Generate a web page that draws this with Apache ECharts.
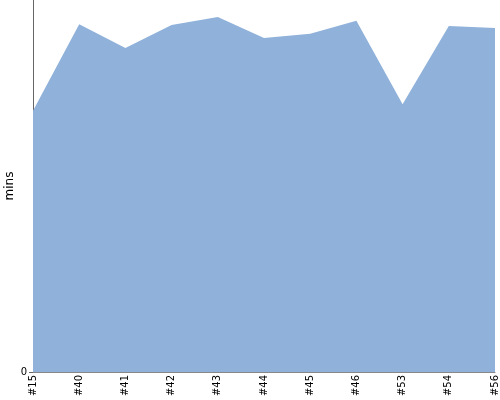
<!DOCTYPE html>
<html><head><meta charset="utf-8">
<script src="https://cdn.jsdelivr.net/npm/echarts@6/dist/echarts.min.js"></script>
<style>html,body{margin:0;padding:0;background:#fff}#c{width:500px;height:400px}</style>
</head><body><div id="c"></div>
<script>
const categories = ['#15','#40','#41','#42','#43','#44','#45','#46','#53','#54','#56'];
const values = [70.2, 93.5, 87.1, 93.3, 95.4, 89.8, 90.9, 94.4, 72.0, 93.0, 92.5];
const yName = 'mins';
const chart = echarts.init(document.getElementById('c'), null, {renderer:'canvas'});
chart.setOption({
  animation:false,
  grid:{left:33,right:5,top:0,bottom:28,containLabel:false,outerBoundsMode:'none'},
  graphic:[{type:'text',x:4,y:186,rotation:Math.PI/2,
    style:{text:yName,fill:'#000',font:'12px "DejaVu Sans"',align:'center',verticalAlign:'top'}}],
  xAxis:{type:'category',data:categories,boundaryGap:false,
    axisLine:{lineStyle:{color:'#888'}},axisTick:{show:false},
    axisLabel:{rotate:90,interval:0,color:'#000',fontFamily:'DejaVu Sans',fontSize:10,margin:3}},
  yAxis:{type:'value',min:0,max:100,interval:100,
    axisLine:{show:true,lineStyle:{color:'#666'}},axisTick:{show:true,length:4,lineStyle:{color:'#666'}},
    splitLine:{show:false},
    axisLabel:{showMaxLabel:false,color:'#000',fontFamily:'DejaVu Sans',fontSize:10,margin:6}},
  series:[{type:'line',data:values,symbol:'none',lineStyle:{width:0},
    areaStyle:{color:'#8fb1da',opacity:1}}]
});
</script></body></html>
